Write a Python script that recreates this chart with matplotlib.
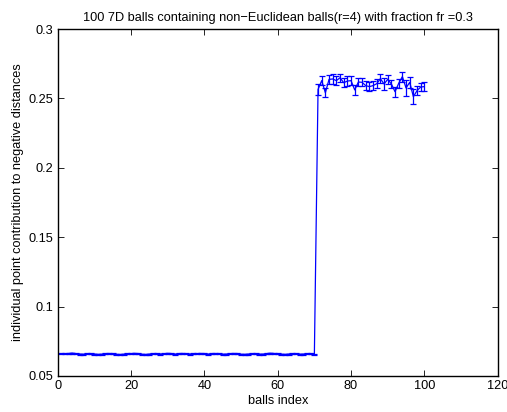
import matplotlib
matplotlib.use("Agg")
import matplotlib.pyplot as plt
import numpy as np

plt.rcParams['font.family'] = ['Liberation Sans', 'DejaVu Sans']

ball_index = list(range(1, 101))

low_values = [
    0.0660, 0.0659, 0.0662, 0.0665, 0.0661, 0.0658, 0.0657, 0.0659, 0.0660, 0.0658,
    0.0656, 0.0657, 0.0659, 0.0662, 0.0660, 0.0656, 0.0655, 0.0657, 0.0659, 0.0661,
    0.0663, 0.0660, 0.0657, 0.0655, 0.0658, 0.0660, 0.0659, 0.0657, 0.0660, 0.0663,
    0.0661, 0.0658, 0.0660, 0.0662, 0.0660, 0.0657, 0.0659, 0.0661, 0.0662, 0.0660,
    0.0658, 0.0660, 0.0661, 0.0659, 0.0657, 0.0658, 0.0660, 0.0662, 0.0660, 0.0657,
    0.0656, 0.0658, 0.0660, 0.0659, 0.0657, 0.0658, 0.0661, 0.0664, 0.0662, 0.0659,
    0.0657, 0.0656, 0.0658, 0.0660, 0.0659, 0.0657, 0.0658, 0.0660, 0.0659, 0.0658,
]
high_values = [
    0.2565, 0.2628, 0.2541, 0.2637, 0.2640, 0.2628, 0.2649, 0.2613, 0.2625, 0.2628,
    0.2561, 0.2618, 0.2616, 0.2592, 0.2585, 0.2592, 0.2606, 0.2642, 0.2604, 0.2637,
    0.2604, 0.2548, 0.2609, 0.2657, 0.2575, 0.2616, 0.2512, 0.2556, 0.2582, 0.2585,
]
values = low_values + high_values

low_errors = [0.0004] * 70
high_errors = [
    0.0040, 0.0035, 0.0033, 0.0035, 0.0033, 0.0030, 0.0030, 0.0033, 0.0035, 0.0030,
    0.0038, 0.0032, 0.0030, 0.0035, 0.0035, 0.0033, 0.0032, 0.0033, 0.0040, 0.0032,
    0.0030, 0.0035, 0.0033, 0.0036, 0.0055, 0.0040, 0.0055, 0.0032, 0.0032, 0.0035,
]
errors = low_errors + high_errors

title_text = "100 7D balls containing non\u2212Euclidean balls(r=4) with fraction fr =0.3"
xlabel_text = "balls index"
ylabel_text = "individual point contribution to negative distances"
xticks = [0, 20, 40, 60, 80, 100, 120]
yticks = [0.05, 0.1, 0.15, 0.2, 0.25, 0.3]
ytick_labels = ["0.05", "0.1", "0.15", "0.2", "0.25", "0.3"]

fig = plt.figure(figsize=(5.07, 4.12), dpi=100)
ax = fig.add_axes([0.1138, 0.0874, 0.8679, 0.8422])

ax.errorbar(ball_index, values, yerr=errors, color=(0, 0, 1), linewidth=0.9,
            elinewidth=0.9, capsize=2.5, capthick=0.9)

ax.set_xlim(0, 120)
ax.set_ylim(0.05, 0.3)
ax.set_xticks(xticks)
ax.set_yticks(yticks)
ax.set_yticklabels(ytick_labels)
ax.tick_params(direction='in', top=True, right=True, length=4, width=0.6,
               labelsize=9.2, pad=3)
for s in ax.spines.values():
    s.set_linewidth(1.0)

ax.set_title(title_text, fontsize=9.2, pad=6)
ax.set_xlabel(xlabel_text, fontsize=9.2, labelpad=2)
ax.set_ylabel(ylabel_text, fontsize=9.2, labelpad=3)

fig.savefig("out.png", dpi=100)
